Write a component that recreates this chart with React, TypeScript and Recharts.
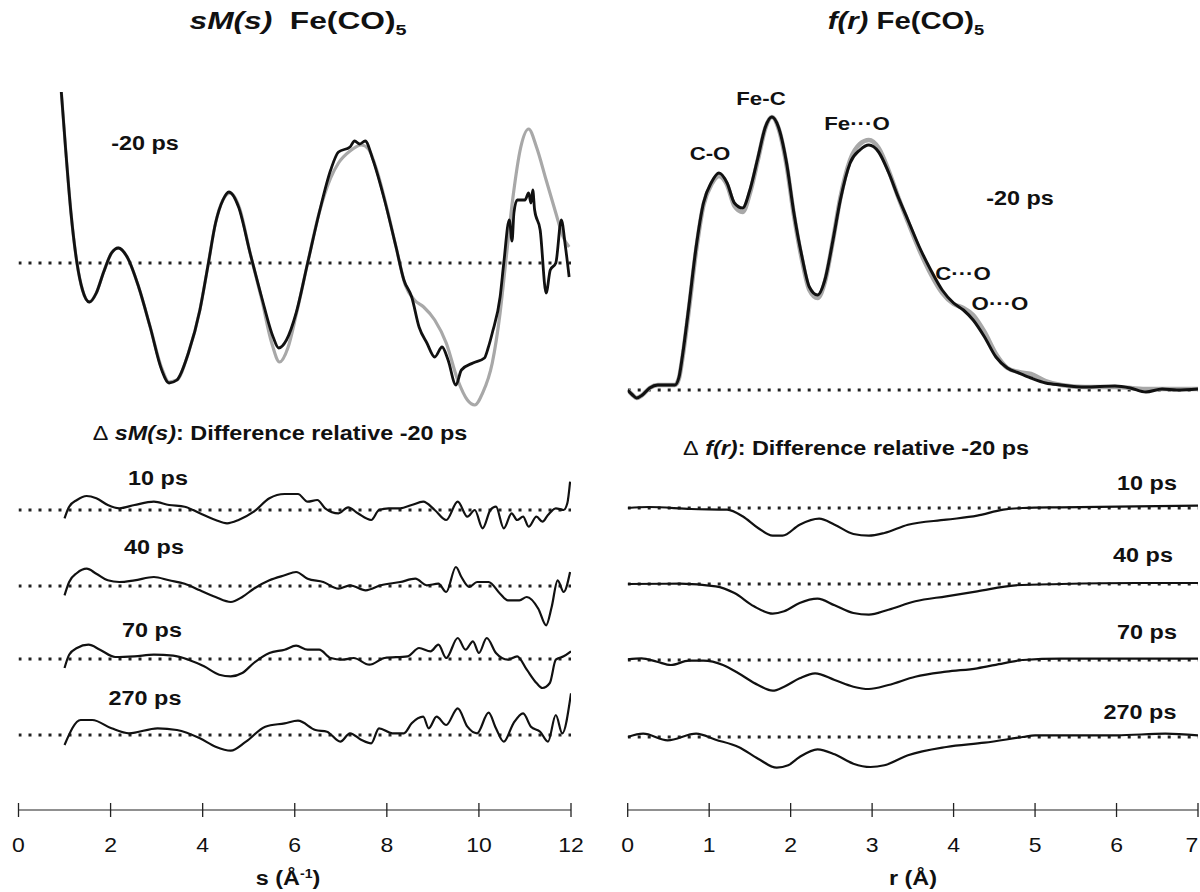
import { LineChart, Line, XAxis, YAxis } from "recharts";

const FONT = '"Liberation Sans", Arial, Helvetica, sans-serif';

// sM(s) at -20 ps, arbitrary units; black = measured, gray = model
const smMeasured: [number, number][] = [
  [0.93, 1.71], [1.02, 1.16], [1.14, 0.5], [1.27, 0.0], [1.39, -0.27], [1.54, -0.39],
  [1.69, -0.3], [1.85, -0.09], [2.02, 0.1], [2.17, 0.15], [2.36, 0.06], [2.61, -0.24],
  [2.86, -0.64], [3.11, -1.07], [3.27, -1.2], [3.44, -1.17], [3.69, -0.9], [3.94, -0.47],
  [4.11, -0.04], [4.28, 0.4], [4.44, 0.63], [4.57, 0.71], [4.78, 0.56], [5.03, 0.1],
  [5.28, -0.34], [5.53, -0.74], [5.65, -0.85], [5.82, -0.77], [6.03, -0.5], [6.28, 0.0],
  [6.53, 0.5], [6.78, 0.93], [6.95, 1.11], [7.2, 1.16], [7.3, 1.22], [7.41, 1.19],
  [7.53, 1.22], [7.7, 1.03], [7.95, 0.63], [8.2, 0.16], [8.37, -0.17], [8.54, -0.34],
  [8.7, -0.64], [8.87, -0.8], [9.04, -0.94], [9.2, -0.84], [9.33, -0.97], [9.5, -1.22],
  [9.62, -1.07], [9.87, -1.0], [10.12, -0.95], [10.2, -0.85], [10.29, -0.7], [10.46, -0.34],
  [10.54, 0.0], [10.66, 0.43], [10.72, 0.22], [10.76, 0.5], [10.83, 0.63], [11.0, 0.63],
  [11.08, 0.7], [11.13, 0.6], [11.17, 0.73], [11.21, 0.53], [11.33, 0.33], [11.46, -0.3],
  [11.55, -0.07], [11.67, 0.0], [11.79, 0.43], [11.88, 0.16], [11.96, -0.14],
];
const smModel: [number, number][] = [
  [0.93, 1.71], [1.02, 1.16], [1.14, 0.5], [1.27, 0.0], [1.39, -0.27], [1.54, -0.39],
  [1.69, -0.3], [1.85, -0.09], [2.02, 0.1], [2.17, 0.15], [2.36, 0.06], [2.61, -0.24],
  [2.86, -0.64], [3.11, -1.05], [3.27, -1.19], [3.44, -1.17], [3.69, -0.9], [3.94, -0.47],
  [4.11, -0.04], [4.28, 0.4], [4.44, 0.63], [4.6, 0.7], [4.8, 0.55], [5.03, 0.1],
  [5.28, -0.36], [5.5, -0.8], [5.67, -0.99], [5.85, -0.85], [6.03, -0.52], [6.28, 0.0],
  [6.53, 0.5], [6.78, 0.85], [6.95, 1.0], [7.2, 1.12], [7.45, 1.18], [7.6, 1.14],
  [7.8, 0.9], [8.0, 0.55], [8.2, 0.16], [8.4, -0.22], [8.6, -0.37], [8.8, -0.44],
  [9.04, -0.57], [9.29, -0.8], [9.54, -1.17], [9.75, -1.37], [9.91, -1.42], [10.08, -1.3],
  [10.29, -1.0], [10.46, -0.5], [10.58, 0.0], [10.74, 0.66], [10.91, 1.16], [11.08, 1.34],
  [11.25, 1.16], [11.46, 0.83], [11.67, 0.5], [11.83, 0.26], [11.96, 0.16],
];

// f(r) at -20 ps, arbitrary units
const frMeasured: [number, number][] = [
  [0.0, 0.0], [0.06, -0.05], [0.11, -0.08], [0.18, -0.05], [0.27, 0.02], [0.37, 0.05],
  [0.49, 0.05], [0.58, 0.05], [0.63, 0.13], [0.67, 0.33], [0.75, 0.83], [0.84, 1.43],
  [0.93, 1.87], [1.03, 2.08], [1.12, 2.17], [1.22, 2.07], [1.31, 1.87], [1.41, 1.82],
  [1.5, 2.0], [1.6, 2.33], [1.69, 2.63], [1.77, 2.73], [1.85, 2.63], [1.95, 2.27],
  [2.04, 1.77], [2.14, 1.33], [2.23, 1.03], [2.33, 0.95], [2.42, 1.1], [2.52, 1.5],
  [2.61, 1.9], [2.73, 2.27], [2.85, 2.4], [2.96, 2.45], [3.08, 2.38], [3.2, 2.18],
  [3.32, 1.93], [3.44, 1.7], [3.58, 1.43], [3.72, 1.2], [3.86, 1.0], [4.0, 0.87],
  [4.12, 0.8], [4.24, 0.7], [4.38, 0.53], [4.52, 0.33], [4.66, 0.22], [4.8, 0.17],
  [4.95, 0.12], [5.13, 0.07], [5.32, 0.05], [5.61, 0.03], [5.98, 0.04], [6.17, 0.02],
  [6.36, -0.02], [6.56, 0.01], [6.74, 0.0], [7.0, 0.01],
];
const frModel: [number, number][] = [
  [0.0, 0.0], [0.06, -0.05], [0.11, -0.08], [0.18, -0.05], [0.27, 0.02], [0.37, 0.05],
  [0.49, 0.05], [0.58, 0.05], [0.63, 0.12], [0.67, 0.31], [0.75, 0.8], [0.84, 1.4],
  [0.93, 1.85], [1.03, 2.06], [1.12, 2.14], [1.22, 2.05], [1.31, 1.84], [1.41, 1.78],
  [1.5, 1.97], [1.6, 2.31], [1.69, 2.62], [1.77, 2.73], [1.85, 2.62], [1.95, 2.25],
  [2.04, 1.75], [2.14, 1.3], [2.23, 1.0], [2.33, 0.92], [2.42, 1.08], [2.52, 1.5],
  [2.61, 1.92], [2.73, 2.3], [2.85, 2.46], [2.96, 2.5], [3.08, 2.42], [3.2, 2.2],
  [3.32, 1.93], [3.44, 1.68], [3.58, 1.4], [3.72, 1.16], [3.86, 0.97], [4.0, 0.86],
  [4.12, 0.82], [4.24, 0.75], [4.38, 0.58], [4.52, 0.36], [4.66, 0.22], [4.8, 0.18],
  [4.95, 0.16], [5.13, 0.09], [5.32, 0.05], [5.61, 0.03], [5.98, 0.03], [6.36, 0.01],
  [6.74, 0.01], [7.0, 0.01],
];

// difference curves relative to -20 ps
const dsm10: [number, number][] = [
  [1.0, -0.83], [1.1, 0.33], [1.27, 1.0], [1.48, 1.4], [1.69, 1.17], [1.94, 0.5],
  [2.19, 0.17], [2.52, 0.5], [2.94, 0.83], [3.27, 0.5], [3.61, 0.33], [3.94, -0.33],
  [4.28, -1.0], [4.53, -1.33], [4.78, -1.0], [5.11, -0.17], [5.45, 1.17], [5.78, 1.6],
  [6.07, 1.6], [6.28, 0.83], [6.49, 1.0], [6.66, 0.17], [6.95, -0.33], [7.16, 0.27],
  [7.37, -0.33], [7.66, -1.0], [7.83, 0.0], [8.04, 0.17], [8.29, 0.17], [8.54, 0.5],
  [8.79, 0.83], [9.04, 0.0], [9.29, -1.0], [9.54, 0.83], [9.75, -0.67], [9.91, 0.0],
  [10.08, -1.83], [10.25, 0.0], [10.37, 0.33], [10.54, -1.83], [10.71, -0.33], [10.83, -1.0],
  [10.96, -0.67], [11.08, -1.67], [11.25, -0.67], [11.38, -1.17], [11.5, -0.5], [11.67, 0.17],
  [11.84, 0.0], [11.92, 0.67], [11.98, 2.83],
];
const dsm40: [number, number][] = [
  [1.0, -0.93], [1.1, 0.4], [1.27, 1.3], [1.48, 1.73], [1.69, 1.23], [1.94, 0.57],
  [2.19, 0.4], [2.52, 0.57], [2.94, 0.9], [3.27, 0.57], [3.61, 0.23], [3.94, -0.43],
  [4.28, -1.1], [4.61, -1.6], [4.86, -1.1], [5.11, -0.27], [5.45, 0.57], [5.78, 1.07],
  [6.03, 1.4], [6.28, 0.73], [6.62, 0.4], [6.95, -0.27], [7.2, 0.07], [7.54, -0.43],
  [7.87, 0.07], [8.29, 0.4], [8.62, 0.73], [8.87, 0.07], [9.12, 0.23], [9.29, -0.6],
  [9.5, 1.9], [9.62, 0.9], [9.79, -0.1], [9.96, 0.4], [10.21, 0.4], [10.46, -0.77],
  [10.63, -1.43], [10.88, -1.43], [11.04, -1.1], [11.29, -2.27], [11.46, -3.93], [11.58, -2.1],
  [11.71, 0.57], [11.84, -0.6], [11.98, 1.4],
];
const dsm70: [number, number][] = [
  [1.0, -0.9], [1.1, 0.43], [1.27, 1.1], [1.52, 1.43], [1.77, 0.93], [2.1, 0.2],
  [2.52, 0.27], [2.94, 0.43], [3.36, 0.33], [3.69, -0.07], [4.03, -0.73], [4.36, -1.57],
  [4.61, -1.73], [4.86, -1.4], [5.11, -0.4], [5.45, 0.6], [5.78, 0.93], [6.03, 1.33],
  [6.28, 0.93], [6.53, 0.93], [6.78, 0.1], [7.03, -0.07], [7.28, 0.1], [7.62, -0.57],
  [7.95, 0.1], [8.45, 0.27], [8.7, 1.1], [8.95, 0.77], [9.12, 1.43], [9.29, 0.1],
  [9.54, 2.1], [9.71, 0.93], [9.87, 1.77], [10.0, 0.6], [10.17, 2.1], [10.37, 0.6],
  [10.63, -0.07], [10.83, 0.27], [11.04, -1.07], [11.25, -2.4], [11.38, -2.9], [11.54, -2.4],
  [11.67, -0.07], [11.84, 0.27], [12.0, 0.77],
];
const dsm270: [number, number][] = [
  [1.0, -1.0], [1.35, 1.5], [1.6, 1.5], [2.02, 0.67], [2.4, 0.17], [3.02, 0.67],
  [3.44, 0.5], [3.94, -0.33], [4.28, -1.17], [4.61, -1.57], [4.94, -0.67], [5.36, 0.83],
  [5.78, 1.17], [6.07, 1.43], [6.45, 0.5], [6.7, 0.33], [6.99, -0.67], [7.2, 0.17],
  [7.45, -0.5], [7.66, -0.83], [7.83, 0.67], [8.12, 0.17], [8.37, 0.17], [8.54, 1.17],
  [8.79, 1.83], [8.91, 0.67], [9.08, 1.83], [9.29, 1.0], [9.54, 2.67], [9.75, 0.83],
  [9.96, 0.17], [10.21, 2.23], [10.37, 0.67], [10.54, -0.67], [10.75, 1.17], [10.96, 2.17],
  [11.13, 0.83], [11.33, 0.33], [11.5, -0.67], [11.67, 2.0], [11.81, 0.17], [12.0, 4.17],
];

const dfr10: [number, number][] = [
  [0.0, 0.0], [0.26, 0.1], [0.78, -0.1], [1.22, -0.17], [1.41, -0.83], [1.6, -2.0],
  [1.78, -2.77], [1.9, -2.77], [2.11, -1.67], [2.35, -1.07], [2.54, -1.67], [2.77, -2.6],
  [2.96, -2.77], [3.15, -2.5], [3.44, -1.67], [3.91, -1.17], [4.29, -0.77], [4.61, -0.17],
  [4.85, 0.0], [5.32, 0.07], [6.25, 0.17], [7.0, 0.23],
];
const dfr40: [number, number][] = [
  [0.0, 0.0], [0.64, 0.03], [1.08, -0.23], [1.31, -0.9], [1.55, -2.23], [1.78, -2.97],
  [1.92, -2.73], [2.11, -1.9], [2.33, -1.47], [2.54, -2.13], [2.77, -2.9], [2.96, -3.07],
  [3.2, -2.57], [3.53, -1.73], [3.91, -1.23], [4.29, -0.73], [4.76, -0.13], [5.32, 0.0],
  [6.25, 0.1], [7.0, 0.1],
];
const dfr70: [number, number][] = [
  [0.0, 0.07], [0.17, 0.17], [0.36, -0.17], [0.53, -0.5], [0.75, -0.07], [0.93, -0.07],
  [1.17, -0.5], [1.36, -1.33], [1.6, -2.5], [1.78, -3.07], [1.92, -2.67], [2.11, -1.83],
  [2.3, -1.33], [2.54, -2.0], [2.77, -2.67], [2.96, -2.9], [3.2, -2.5], [3.53, -1.67],
  [3.91, -1.17], [4.29, -0.83], [4.61, -0.33], [4.85, 0.0], [5.32, 0.13], [6.25, 0.13],
  [7.0, 0.13],
];
const dfr270: [number, number][] = [
  [0.0, 0.0], [0.19, 0.33], [0.49, -0.33], [0.84, 0.33], [1.08, -0.27], [1.36, -1.0],
  [1.6, -2.17], [1.83, -3.07], [1.97, -2.83], [2.11, -2.0], [2.33, -1.23], [2.54, -1.73],
  [2.77, -2.67], [2.98, -3.0], [3.15, -2.83], [3.44, -1.83], [3.91, -1.0], [4.38, -0.57],
  [4.85, 0.0], [5.0, 0.17], [6.0, 0.17], [6.6, 0.33], [7.0, 0.17],
];

const delays = ["10 ps", "40 ps", "70 ps", "270 ps"];
const sDiffs = [dsm10, dsm40, dsm70, dsm270];
const rDiffs = [dfr10, dfr40, dfr70, dfr270];
const sTicks = [0, 2, 4, 6, 8, 10, 12];
const rTicks = [0, 1, 2, 3, 4, 5, 6, 7];

const toRows = (pts: [number, number][]) => pts.map(([x, y]) => ({ x, y }));

type Curve = { pts: [number, number][]; color: string; width: number };

const Strip = ({
  left, top, height, margin, xMax, yDomain, curves,
}: {
  left: number; top: number; height: number; margin: [number, number];
  xMax: number; yDomain: [number, number]; curves: Curve[];
}) => (
  <div style={{ position: "absolute", left, top }}>
    <LineChart
      width={600}
      height={height}
      margin={{ top: 0, bottom: 0, left: margin[0], right: margin[1] }}
    >
      <XAxis type="number" dataKey="x" domain={[0, xMax]} hide allowDataOverflow />
      <YAxis type="number" dataKey="y" domain={yDomain} hide />
      {/* dotted zero line */}
      <Line
        data={toRows([[0, 0], [xMax, 0]])}
        dataKey="y"
        stroke="#222"
        strokeWidth={2.8}
        strokeDasharray="3 7"
        dot={false}
        isAnimationActive={false}
      />
      {curves.map((c, i) => (
        <Line
          key={i}
          data={toRows(c.pts)}
          dataKey="y"
          type="monotone"
          stroke={c.color}
          strokeWidth={c.width}
          dot={false}
          isAnimationActive={false}
        />
      ))}
    </LineChart>
  </div>
);

const AxisTick = ({ x, y, payload }: any) => (
  <g>
    <line x1={x} x2={x} y1={y - 7} y2={y + 7} stroke="#222" strokeWidth={1.3} />
    <text
      transform={`translate(${Math.min(x, 592)} ${y + 35}) scale(1.15 1)`}
      textAnchor="middle"
      dominantBaseline="central"
      fontSize={20}
      fontFamily={FONT}
      fill="#111"
    >
      {payload.value}
    </text>
  </g>
);

const AxisStrip = ({
  left, margin, xMax, ticks,
}: { left: number; margin: [number, number]; xMax: number; ticks: number[] }) => (
  <div style={{ position: "absolute", left, top: 760 }}>
    <LineChart
      width={600}
      height={120}
      data={ticks.map((t) => ({ x: t }))}
      margin={{ top: 0, bottom: 0, left: margin[0], right: margin[1] }}
    >
      <XAxis
        type="number"
        dataKey="x"
        domain={[0, xMax]}
        ticks={ticks}
        interval={0}
        height={70}
        tickSize={0}
        tickMargin={0}
        tickLine={false}
        axisLine={{ stroke: "#222", strokeWidth: 1.2 }}
        tick={(p: any) => <AxisTick {...p} />}
        allowDataOverflow
      />
      <YAxis hide />
    </LineChart>
  </div>
);

const Txt = ({
  x, y, size = 20, sx = 1.17, weight = 700, children,
}: { x: number; y: number; size?: number; sx?: number; weight?: number; children: any }) => (
  <div
    style={{
      position: "absolute",
      left: x,
      top: y,
      transform: `translate(-50%, -50%) scaleX(${sx})`,
      fontSize: size,
      fontWeight: weight,
      fontFamily: FONT,
      lineHeight: 1,
      whiteSpace: "nowrap",
      color: "#111",
    }}
  >
    {children}
  </div>
);

const LEFT_M: [number, number] = [18.5, 29];
const RIGHT_M: [number, number] = [27.7, 2];
const sBase = [510, 585.7, 659.3, 735];
const rBase = [508.3, 584.3, 660, 736.7];
const sLabelPos = [[158, 478], [154, 547], [152, 630], [144.5, 698]];
const rLabelPos = [[1147, 483], [1143, 555], [1147, 632], [1140, 712]];

export default function App() {
  return (
    <div
      style={{
        position: "absolute", left: 0, top: 0, width: 1200, height: 892,
        background: "#fff", overflow: "hidden",
      }}
    >
      {/* titles */}
      <Txt x={298} y={23} size={24} sx={1.32}>
        <i>sM(s)</i>&nbsp; Fe(CO)<sub style={{ fontSize: 15 }}>5</sub>
      </Txt>
      <Txt x={906} y={23} size={24} sx={1.22}>
        <i>f(r)</i>&nbsp;Fe(CO)<sub style={{ fontSize: 15 }}>5</sub>
      </Txt>

      {/* top panels */}
      <Strip
        left={0} top={80} height={340} margin={LEFT_M} xMax={12} yDomain={[-1.57, 1.83]}
        curves={[
          { pts: smModel, color: "#a8a8a8", width: 3.2 },
          { pts: smMeasured, color: "#111", width: 2.8 },
        ]}
      />
      <Strip
        left={600} top={80} height={340} margin={RIGHT_M} xMax={7} yDomain={[-0.3, 3.1]}
        curves={[
          { pts: frModel, color: "#a8a8a8", width: 4.5 },
          { pts: frMeasured, color: "#111", width: 3 },
        ]}
      />
      <Txt x={145} y={143}>-20 ps</Txt>
      <Txt x={1020} y={198}>-20 ps</Txt>
      <Txt x={710} y={153} size={19}>C-O</Txt>
      <Txt x={761} y={98} size={19}>Fe-C</Txt>
      <Txt x={857} y={123} size={19}>Fe···O</Txt>
      <Txt x={963} y={273} size={19}>C···O</Txt>
      <Txt x={1000} y={303} size={19}>O···O</Txt>

      {/* difference panels */}
      <Txt x={280} y={433}>
        <span style={{ fontWeight: 400 }}>Δ</span> <i>sM(s)</i>: Difference relative -20 ps
      </Txt>
      <Txt x={856} y={448}>
        <span style={{ fontWeight: 400 }}>Δ</span> <i>f(r)</i>: Difference relative -20 ps
      </Txt>
      {sDiffs.map((d, i) => (
        <Strip
          key={"s" + i}
          left={0} top={sBase[i] - 50} height={100} margin={LEFT_M} xMax={12} yDomain={[-5, 5]}
          curves={[{ pts: d, color: "#111", width: 2.2 }]}
        />
      ))}
      {rDiffs.map((d, i) => (
        <Strip
          key={"r" + i}
          left={600} top={rBase[i] - 50} height={100} margin={RIGHT_M} xMax={7} yDomain={[-5, 5]}
          curves={[{ pts: d, color: "#111", width: 2.2 }]}
        />
      ))}
      {delays.map((d, i) => (
        <Txt key={"sl" + i} x={sLabelPos[i][0]} y={sLabelPos[i][1]}>{d}</Txt>
      ))}
      {delays.map((d, i) => (
        <Txt key={"rl" + i} x={rLabelPos[i][0]} y={rLabelPos[i][1]}>{d}</Txt>
      ))}

      {/* x axes */}
      <AxisStrip left={0} margin={LEFT_M} xMax={12} ticks={sTicks} />
      <AxisStrip left={600} margin={RIGHT_M} xMax={7} ticks={rTicks} />
      <Txt x={288} y={878}>
        s (Å<sup style={{ fontSize: 12 }}>-1</sup>)
      </Txt>
      <Txt x={913} y={878}>r (Å)</Txt>
    </div>
  );
}
